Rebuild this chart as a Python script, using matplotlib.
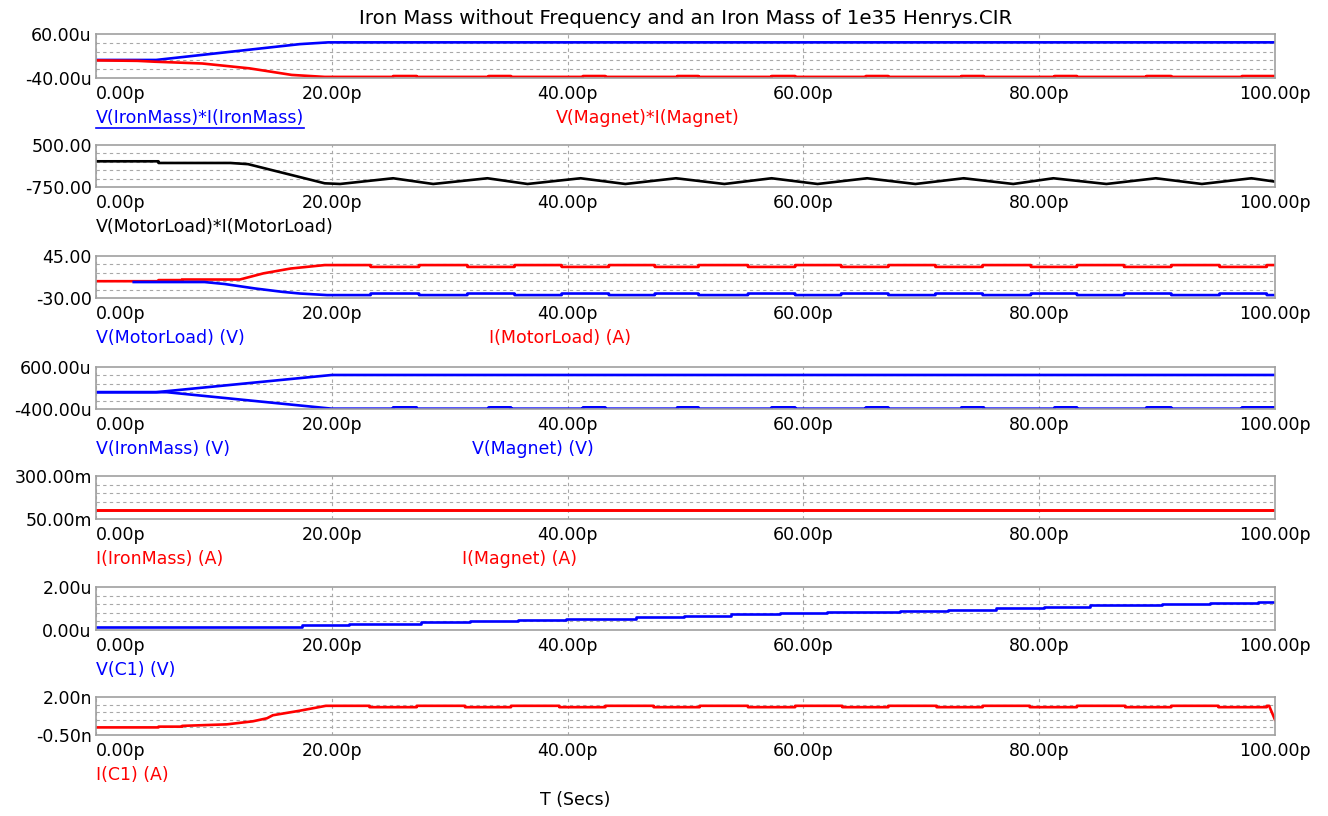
import matplotlib
matplotlib.use("Agg")
import matplotlib.pyplot as plt
from matplotlib.lines import Line2D

plt.rcParams['font.family'] = ['DejaVu Sans']
FS = 12.5

title = "Iron Mass without Frequency and an Iron Mass of 1e35 Henrys.CIR"
x_ticks = [0, 20, 40, 60, 80, 100]
x_tick_labels = ["0.00p", "20.00p", "40.00p", "60.00p", "80.00p", "100.00p"]

# toggle times of the small ripples (p)
bumps_a = [25.2, 27.2, 33.3, 35.2, 41.3, 43.2, 49.3, 51.1, 57.3, 59.3,
           65.3, 67.2, 73.4, 75.3, 81.3, 83.2, 89.1, 91.2, 97.2]
bumps_b = [23.3, 27.4, 31.5, 35.5, 39.5, 43.5, 47.4, 51.1, 55.3, 59.3,
           63.2, 67.2, 71.2, 75.2, 79.3, 83.2, 87.2, 91.2, 95.3, 99.3]

# panel 1 (u)
t1_blue = [0, 5.1, 17.3, 19.7, 100]
v1_blue = [1, 1, 37, 41, 41]
t1_red = [0, 3.5, 5, 9, 13, 16.6, 19.4]
v1_red = [0, -1, -3, -7, -18, -33, -37.5]
lev1_red = [-37.5, -35.5]

# panel 2
t2 = [0, 5.3, 5.3, 11.4, 12.9, 19.4, 20.7, 25.2, 28.6, 33.2, 36.6, 41.1,
      44.9, 49.2, 53.3, 57.3, 61.2, 65.4, 69.5, 73.6, 77.8, 81.2, 85.7,
      89.9, 93.8, 98.0, 100]
v2 = [15, 15, -35, -35, -70, -640, -660, -490, -660, -490, -660, -490,
      -660, -490, -660, -490, -660, -490, -660, -490, -660, -490, -660,
      -490, -660, -490, -590]

# panel 3
t3_red = [0, 5.3, 5.3, 7.3, 7.3, 12.2, 14.2, 16.5, 19.4]
v3_red = [0, 0, 2, 2, 3, 3, 14, 22.6, 28.8]
lev3_red = [28.8, 25.5]
t3_blue = [3.2, 9.2, 10.9, 13.5, 15.8, 17.3, 19.6]
v3_blue = [-1.5, -1.5, -5, -13, -19, -22, -24.8]
lev3_blue = [-24.8, -22.0]

# panel 4 (u)
t4_up = [0, 5.1, 20, 100]
v4_up = [0, 0, 410, 410]
t4_lo = [0, 6, 20]
v4_lo = [0, 0, -392]
lev4_lo = [-392, -360]

# panel 5 (m)
t5 = [0, 100]
v5_iron = [100, 100]
v5_magnet = [100, 100]

# panel 6 (u)
t6 = [0, 17.5, 21.5, 27.6, 31.7, 35.8, 39.9, 45.8, 49.9, 53.9, 58.0, 62.0,
      68.2, 72.3, 76.3, 80.4, 84.3, 90.4, 94.5, 98.6, 100]
v6 = [0.14, 0.23, 0.30, 0.36, 0.42, 0.48, 0.53, 0.61, 0.67, 0.73, 0.79,
      0.85, 0.89, 0.95, 1.02, 1.08, 1.14, 1.20, 1.26, 1.30, 1.30]

# panel 7 (n)
t7 = [0, 5.3, 5.3, 7.3, 7.3, 11.1, 12.2, 13.3, 14.5, 15, 17.3, 19.5]
v7 = [0, 0, 0.05, 0.05, 0.1, 0.2, 0.3, 0.4, 0.6, 0.8, 1.1, 1.42]
lev7 = [1.42, 1.33]
bumps_c = [23.2, 27.2, 31.3, 35.2, 39.3, 43.2, 47.3, 51.2, 55.3, 59.3,
           63.3, 67.2, 71.3, 75.2, 79.2, 83.2, 87.3, 91.2, 95.2, 99.3]
t7_end = [99.5, 100]
v7_end = [1.42, 0.5]


def toggle_path(t, v, toggles, levels, t_end=100):
    t = list(t)
    v = list(v)
    k = 0
    for tt in toggles:
        t += [tt, tt]
        v += [levels[k], levels[1 - k]]
        k = 1 - k
    t.append(t_end)
    v.append(levels[k])
    return t, v


fig = plt.figure(figsize=(13.28, 8.16), dpi=100)
W, H = 1328.0, 816.0
L, R = 96, 1275

# (top, height) in pixels
boxes = [(34, 44), (145, 42), (256, 42), (367, 42), (476, 43), (587, 43), (697, 38)]
yranges = [(-40, 60), (-750, 500), (-30, 45), (-400, 600), (50, 300), (0, 2), (-0.5, 2)]
ylabels = [("-40.00u", "60.00u"), ("-750.00", "500.00"), ("-30.00", "45.00"),
           ("-400.00u", "600.00u"), ("50.00m", "300.00m"), ("0.00u", "2.00u"),
           ("-0.50n", "2.00n")]
legends = [
    [("V(IronMass)*I(IronMass)", "blue", 96), ("V(Magnet)*I(Magnet)", "red", 556)],
    [("V(MotorLoad)*I(MotorLoad)", "black", 96)],
    [("V(MotorLoad) (V)", "blue", 96), ("I(MotorLoad) (A)", "red", 489)],
    [("V(IronMass) (V)", "blue", 96), ("V(Magnet) (V)", "blue", 472)],
    [("I(IronMass) (A)", "red", 96), ("I(Magnet) (A)", "red", 462)],
    [("V(C1) (V)", "blue", 96)],
    [("I(C1) (A)", "red", 96)],
]

axes = []
for i, (top, h) in enumerate(boxes):
    ax = fig.add_axes([L / W, 1 - (top + h) / H, (R - L) / W, h / H])
    lo, hi = yranges[i]
    ax.set_xlim(0, 100)
    ax.set_ylim(lo, hi)
    ax.set_xticks(x_ticks)
    ax.set_xticklabels(x_tick_labels, fontsize=FS)
    ax.get_xticklabels()[0].set_horizontalalignment("left")
    ax.set_yticks([lo, hi])
    ax.set_yticklabels(ylabels[i], fontsize=FS)
    step = (hi - lo) / 5.0
    ax.set_yticks([lo + step * k for k in range(1, 5)], minor=True)
    ax.tick_params(which="both", length=0)
    ax.tick_params(axis="x", pad=5)
    ax.tick_params(axis="y", pad=3)
    ax.grid(True, axis="x", which="major", color="#a8a8a8", ls=(0, (3, 3)), lw=0.8)
    ax.grid(True, axis="y", which="minor", color="#a8a8a8", ls=(0, (3, 3)), lw=0.8)
    for s in ax.spines.values():
        s.set_color("#a0a0a0")
        s.set_linewidth(1.2)
    for txt, col, xp in legends[i]:
        ax.annotate(txt, xy=((xp - L) / (R - L), 0), xycoords="axes fraction",
                    xytext=(0, -40), textcoords="offset pixels",
                    ha="left", va="center", color=col, fontsize=FS)
    axes.append(ax)

lw = 1.9
a = axes[0]
a.plot(t1_blue, v1_blue, color="blue", lw=lw)
t, v = toggle_path(t1_red, v1_red, bumps_a, lev1_red)
a.plot(t, v, color="red", lw=lw)

axes[1].plot(t2, v2, color="black", lw=lw)

t, v = toggle_path(t3_red, v3_red, bumps_b, lev3_red)
axes[2].plot(t, v, color="red", lw=lw)
t, v = toggle_path(t3_blue, v3_blue, bumps_b, lev3_blue)
axes[2].plot(t, v, color="blue", lw=lw)

axes[3].plot(t4_up, v4_up, color="blue", lw=lw)
t, v = toggle_path(t4_lo, v4_lo, bumps_a, lev4_lo)
axes[3].plot(t, v, color="blue", lw=lw)

axes[4].plot(t5, v5_iron, color="red", lw=lw)
axes[4].plot(t5, v5_magnet, color="red", lw=lw)

axes[5].plot(t6, v6, color="blue", lw=lw, drawstyle="steps-post")

t, v = toggle_path(t7, v7, bumps_c, lev7, t_end=t7_end[0])
axes[6].plot(t + t7_end[1:], v + v7_end[1:], color="red", lw=lw)

fig.text(686 / W, 1 - 18 / H, title, ha="center", va="center", fontsize=14.2)
fig.text(540 / W, 1 - 800 / H, "T (Secs)", ha="left", va="center", fontsize=FS)

# underline the selected curve name
fig.canvas.draw()
r = fig.canvas.get_renderer()
first = axes[0].texts[0]
bb = first.get_window_extent(r)
fig.add_artist(Line2D([bb.x0 / W, bb.x1 / W], [(bb.y0 - 1) / H, (bb.y0 - 1) / H],
                      color="blue", lw=1.2, transform=fig.transFigure))

fig.savefig("out.png", dpi=100)
